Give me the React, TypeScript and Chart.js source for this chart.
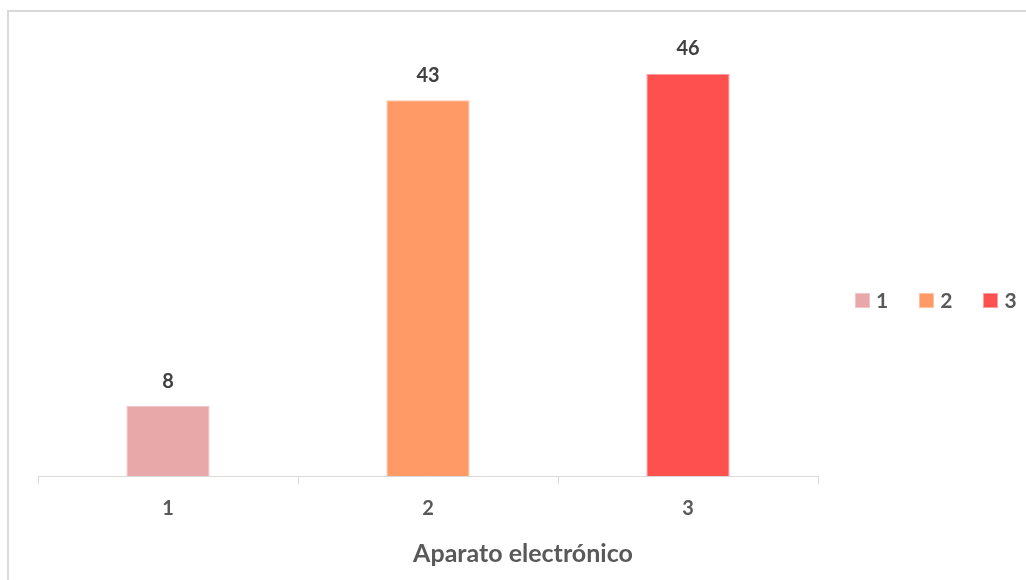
import React, { useEffect, useRef } from "react";
import { Chart, registerables } from "chart.js";

Chart.register(...registerables);

const categories = ["1", "2", "3"];
const values = [8, 43, 46];
const barColors = ["#E8A7A8", "#FF9966", "#FF5050"];
const barBorders = ["#F2C6C6", "#FFC2A3", "#FF9E9E"];
const axisTitle = "Aparato electrónico";
const yMin = 0;
const yMax = 50;

const FONT = "Lato, 'Open Sans', sans-serif";

const dataLabelPlugin = {
  id: "dataLabels",
  afterDatasetsDraw(chart: any) {
    const ctx = chart.ctx;
    const meta = chart.getDatasetMeta(0);
    ctx.save();
    ctx.font = `bold 20px ${FONT}`;
    ctx.fillStyle = "#404040";
    ctx.textAlign = "center";
    ctx.textBaseline = "middle";
    meta.data.forEach((bar: any, i: number) => {
      ctx.fillText(String(chart.data.datasets[0].data[i]), bar.x, bar.y - 25);
    });
    ctx.restore();
  },
};

export default function App() {
  const ref = useRef<HTMLCanvasElement | null>(null);

  useEffect(() => {
    if (!ref.current) return;
    const chart = new Chart(ref.current, {
      type: "bar",
      data: {
        labels: categories,
        datasets: [
          {
            data: values,
            backgroundColor: barColors,
            borderColor: barBorders,
            borderWidth: 1,
            barPercentage: 0.32,
            categoryPercentage: 1,
          },
        ],
      },
      options: {
        responsive: false,
        maintainAspectRatio: false,
        animation: false,
        devicePixelRatio: 1,
        layout: { padding: { left: 38, right: 208, top: 39, bottom: 46 } },
        plugins: {
          legend: { display: false },
          tooltip: { enabled: false },
        },
        scales: {
          x: {
            grid: {
              display: true,
              drawOnChartArea: false,
              drawTicks: true,
              tickLength: 8,
              color: "#D9D9D9",
              lineWidth: 1,
              offset: true,
            },
            border: { display: true, color: "#D9D9D9", width: 1 },
            ticks: {
              color: "#595959",
              padding: 13,
              font: { family: FONT, size: 20, weight: "bold" },
            },
          },
          y: {
            display: false,
            min: yMin,
            max: yMax,
          },
        },
      },
      plugins: [dataLabelPlugin],
    });
    return () => chart.destroy();
  }, []);

  return (
    <div
      style={{
        position: "fixed",
        left: 0,
        top: 0,
        width: 1026,
        height: 580,
        overflow: "hidden",
        background: "#fff",
        fontFamily: FONT,
      }}
    >
      <div
        style={{
          position: "absolute",
          left: 7,
          top: 10,
          width: 1100,
          height: 700,
          border: "2px solid #D9D9D9",
        }}
      />
      <canvas
        ref={ref}
        width={1026}
        height={580}
        style={{ position: "absolute", left: 0, top: 0, width: 1026, height: 580 }}
      />
      <div
        style={{
          position: "absolute",
          left: 323,
          width: 400,
          top: 539,
          lineHeight: "26px",
          textAlign: "center",
          fontSize: 25,
          fontWeight: "bold",
          color: "#595959",
        }}
      >
        {axisTitle}
      </div>
      <div
        style={{
          position: "absolute",
          left: 855,
          top: 288,
          height: 24,
          display: "flex",
          alignItems: "center",
        }}
      >
        {categories.map((c, i) => (
          <div
            key={c}
            style={{ display: "flex", alignItems: "center", marginRight: i < categories.length - 1 ? 31 : 0 }}
          >
            <span
              style={{
                display: "inline-block",
                width: 13,
                height: 13,
                background: barColors[i],
                border: `1px solid ${barBorders[i]}`,
                marginRight: 6,
              }}
            />
            <span
              style={{
                fontSize: 21,
                fontWeight: "bold",
                color: "#595959",
                lineHeight: "24px",
              }}
            >
              {c}
            </span>
          </div>
        ))}
      </div>
    </div>
  );
}
